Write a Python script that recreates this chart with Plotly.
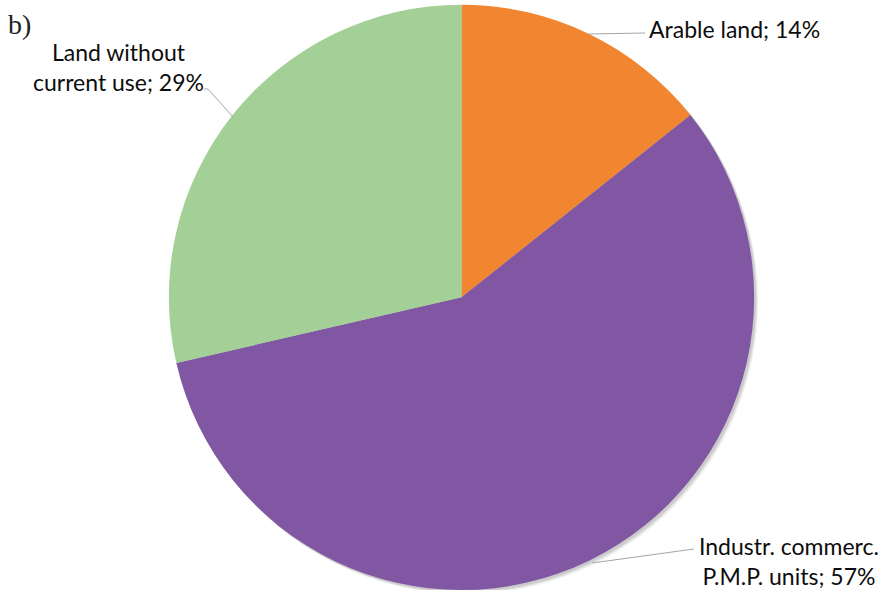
import plotly.graph_objects as go

labels = ["Arable land", "Industr. commerc. P.M.P. units", "Land without current use"]
label_text = ["Arable land; 14%", "Industr. commerc.<br>P.M.P. units; 57%", "Land without<br>current use; 29%"]
values = [14.3, 57.1, 28.6]
colors = ["#F28530", "#8157A3", "#A3D097"]

W, H = 885, 590

def px(x):
    return x / W

def py(y):
    return 1 - y / H

CX, CY, R = 461.5, 297.4, 292.7

fig = go.Figure()
fig.add_trace(go.Pie(
    labels=labels, values=values, sort=False, direction="clockwise", rotation=0,
    marker=dict(colors=colors, line=dict(width=0)),
    textinfo="none", hoverinfo="label+percent",
    domain=dict(x=[(CX - R) / W, (CX + R) / W], y=[0, 0.992]),
    showlegend=False,
))

# soft shadow behind the pie
for off, a in [(4, 0.05), (3, 0.07), (2, 0.09)]:
    fig.add_shape(type="circle", xref="paper", yref="paper", layer="below",
                  x0=px(CX - R + off), x1=px(CX + R + off),
                  y0=py(CY + R + off), y1=py(CY - R + off),
                  fillcolor=f"rgba(0,0,0,{a})", line=dict(width=0))

font = dict(family="Lato, 'Open Sans', sans-serif", size=23, color="#0d0d0d")
line_style = dict(color="#A6A6A6", width=1)

# leader lines
fig.add_shape(type="line", xref="paper", yref="paper",
              x0=px(589), y0=py(34), x1=px(645), y1=py(33), line=line_style)
fig.add_shape(type="path", xref="paper", yref="paper",
              path=f"M {px(204)},{py(89)} L {px(208)},{py(89)} L {px(233)},{py(117)}", line=line_style)
fig.add_shape(type="line", xref="paper", yref="paper",
              x0=px(592), y0=py(563), x1=px(694), y1=py(549), line=line_style)

fig.add_annotation(text=label_text[0], xref="paper", yref="paper", x=px(647), y=py(29),
                   xanchor="left", yanchor="middle", showarrow=False, font=font)
fig.add_annotation(text=label_text[1], xref="paper", yref="paper", x=px(789), y=py(561),
                   xanchor="center", yanchor="middle", showarrow=False, font=font, align="center")
fig.add_annotation(text=label_text[2], xref="paper", yref="paper", x=px(118), y=py(67),
                   xanchor="center", yanchor="middle", showarrow=False, font=font, align="center")
fig.add_annotation(text="b)", xref="paper", yref="paper", x=px(6), y=py(24),
                   xanchor="left", yanchor="middle", showarrow=False,
                   font=dict(family="'Liberation Serif', serif", size=28, color="#222222"))

fig.update_layout(width=W, height=H, margin=dict(l=0, r=0, t=0, b=0),
                  paper_bgcolor="white", plot_bgcolor="white")
fig.write_html("out.html")
